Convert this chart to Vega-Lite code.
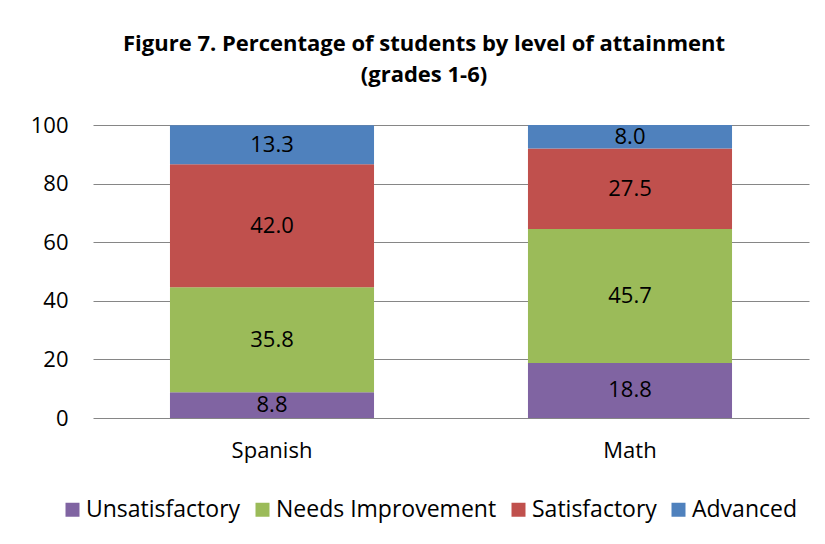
{
  "$schema": "https://vega.github.io/schema/vega-lite/v6.json",
  "autosize": {"type": "none"},
  "padding": {"left": 93, "top": 125, "right": 16, "bottom": 126},
  "width": 716,
  "height": 293,
  "background": "white",
  "title": {
    "text": ["Figure 7. Percentage of students by level of attainment", "(grades 1-6)"],
    "font": "Open Sans",
    "fontSize": 22,
    "fontWeight": "bold",
    "color": "black",
    "anchor": "middle",
    "frame": "group",
    "dx": -27,
    "offset": 27,
    "lineHeight": 31
  },
  "data": {
    "values": [
      {"subject": "Spanish", "level": "Unsatisfactory", "ord": 1, "pct": 8.8},
      {"subject": "Spanish", "level": "Needs Improvement", "ord": 2, "pct": 35.8},
      {"subject": "Spanish", "level": "Satisfactory", "ord": 3, "pct": 42.0},
      {"subject": "Spanish", "level": "Advanced", "ord": 4, "pct": 13.3},
      {"subject": "Math", "level": "Unsatisfactory", "ord": 1, "pct": 18.8},
      {"subject": "Math", "level": "Needs Improvement", "ord": 2, "pct": 45.7},
      {"subject": "Math", "level": "Satisfactory", "ord": 3, "pct": 27.5},
      {"subject": "Math", "level": "Advanced", "ord": 4, "pct": 8.0}
    ]
  },
  "encoding": {
    "x": {
      "field": "subject",
      "type": "nominal",
      "sort": ["Spanish", "Math"],
      "scale": {"paddingInner": 0.43, "paddingOuter": 0.215},
      "axis": {
        "title": null,
        "labelAngle": 0,
        "domain": false,
        "ticks": false,
        "tickSize": 0,
        "labelPadding": 22,
        "labelFont": "Open Sans",
        "labelFontSize": 22,
        "labelColor": "black"
      }
    },
    "y": {
      "field": "pct",
      "type": "quantitative",
      "stack": "zero",
      "scale": {"domain": [0, 100], "nice": false},
      "axis": {
        "title": null,
        "values": [0, 20, 40, 60, 80, 100],
        "domain": false,
        "ticks": false,
        "tickSize": 0,
        "labelPadding": 25,
        "labelFont": "Open Sans",
        "labelFontSize": 22,
        "labelColor": "black",
        "gridColor": "#868686",
        "gridWidth": 1,
        "gridOpacity": 1
      }
    },
    "order": {"field": "ord", "type": "quantitative"}
  },
  "layer": [
    {
      "mark": {"type": "bar"},
      "encoding": {
        "color": {
          "field": "level",
          "type": "nominal",
          "sort": ["Unsatisfactory", "Needs Improvement", "Satisfactory", "Advanced"],
          "scale": {
            "domain": ["Unsatisfactory", "Needs Improvement", "Satisfactory", "Advanced"],
            "range": ["#8064A2", "#9BBB59", "#C0504D", "#4F81BD"]
          },
          "legend": {
            "title": null,
            "orient": "none",
            "direction": "horizontal",
            "legendX": -32,
            "legendY": 373,
            "symbolType": "square",
            "symbolSize": 196,
            "symbolStrokeWidth": 0,
            "symbolOpacity": 1,
            "labelFont": "Open Sans",
            "labelFontSize": 23,
            "labelColor": "black",
            "labelLimit": 0,
            "labelOffset": 2,
            "columnPadding": 10
          }
        }
      }
    },
    {
      "mark": {"type": "text", "font": "Open Sans", "fontSize": 22, "color": "black", "baseline": "middle"},
      "encoding": {
        "y": {"field": "pct", "type": "quantitative", "stack": "zero", "bandPosition": 0.5},
        "text": {"field": "pct", "type": "quantitative", "format": ".1f"}
      }
    }
  ],
  "config": {
    "view": {"stroke": null}
  }
}
